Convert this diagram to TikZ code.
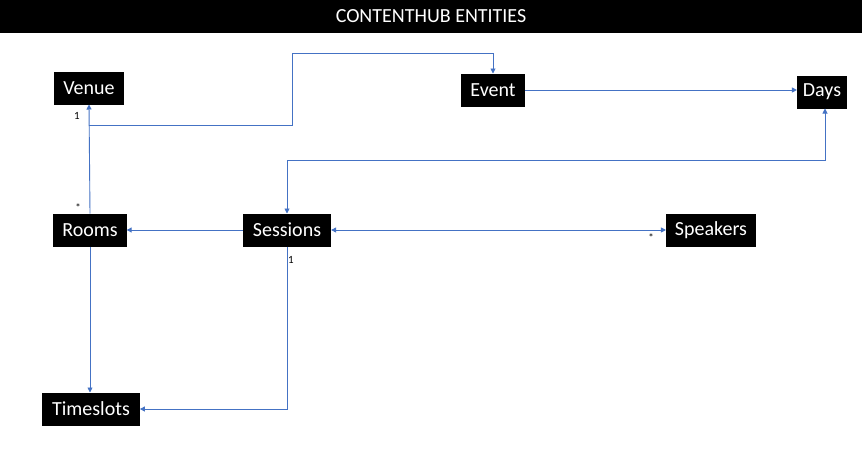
\documentclass[tikz,border=0pt]{standalone}
\usepackage{fontspec}
\setmainfont{Carlito}
\usepackage{tikz}
\usetikzlibrary{arrows.meta,calc}
\definecolor{linkblue}{RGB}{68,114,196}

\begin{document}
\begin{tikzpicture}[
  x=1pt, y=-1pt,
  entity/.style={fill=black, text=white, minimum height=33pt, inner xsep=9pt, inner ysep=0pt, outer sep=0pt, font=\fontsize{20}{22}\selectfont},
  link/.style={-{Triangle[length=5pt,width=5pt]}, draw=linkblue, line width=0.9pt},
  twoway/.style={link, {Triangle[length=5pt,width=5pt]}-{Triangle[length=5pt,width=5pt]}},
  mult/.style={font=\fontsize{11}{12}\selectfont, inner sep=0pt},
]
  \fill[white] (0,0) rectangle (862,455);
  \useasboundingbox (0,0) rectangle (862,455);
  \node[fill=black, text=white, anchor=north west, outer sep=0pt, minimum width=862pt, minimum height=33pt, font=\fontsize{20}{22}\selectfont] (title) at (0,0) {CONTENTHUB ENTITIES};

  \node[entity] (venue) at (89,88) {Venue};
  \node[entity] (event) at (493,90) {Event};
  \node[entity, inner xsep=6pt] (days) at (822,92) {Days};
  \node[entity] (rooms) at (90,230) {Rooms};
  \node[entity, inner xsep=10pt] (sessions) at (287,230) {Sessions};
  \node[entity] (speakers) at (711,230) {Speakers};
  \node[entity, inner xsep=10pt] (timeslots) at (91,409) {Timeslots};

  \coordinate (venuejoin) at ($(venue.south)+(0,21)$);
  \draw[link] (rooms.north) -- (venue.south);
  \draw[link] (venuejoin) -| (292,53) -| (event.north);
  \draw[link] (event.east) -- (event.east -| days.west);
  \draw[twoway] ($(days.south)+(3,0)$) -- ++(0,52) -| (sessions.north);
  \draw[link] (sessions.west) -- (rooms.east);
  \draw[twoway] (sessions.east) -- (speakers.west);
  \draw[link] (sessions.south) |- (timeslots.east);
  \draw[link] (rooms.south) -- (rooms.south |- timeslots.north);

  \node[mult] (venueone) at (77,116) {1};
  \node[mult] (roomsmany) at (78,208) {*};
  \node[mult] (sessionsone) at (291,260) {1};
  \node[mult] (speakersmany) at (651,238) {*};
\end{tikzpicture}
\end{document}
